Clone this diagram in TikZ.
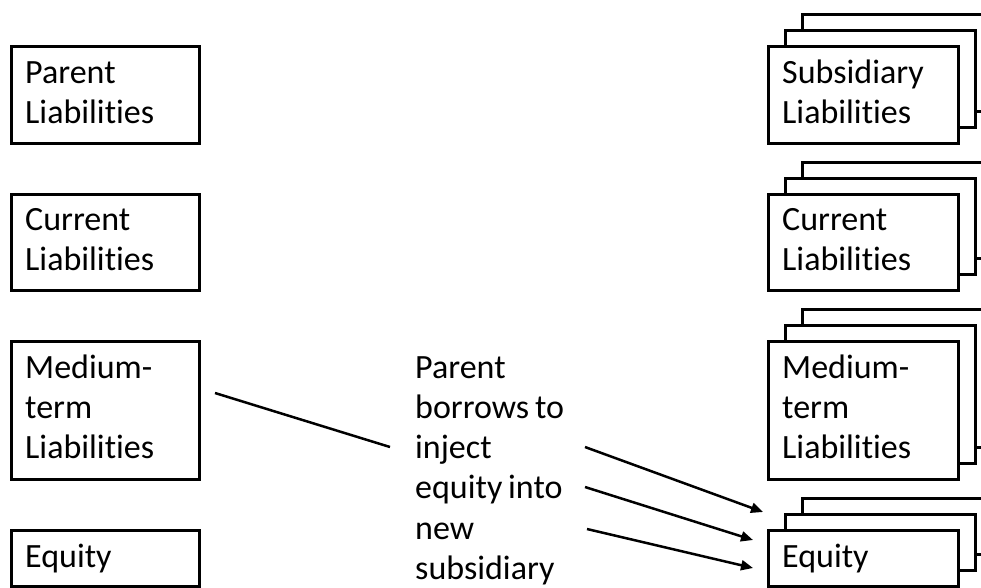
\documentclass[tikz,border=0pt]{standalone}
\usepackage{fontspec}
\newfontfamily\lblfont[Ligatures={NoCommon,NoContextual}]{Carlito}
\newcommand\lblsize{\lblfont\fontsize{34}{40.3}\selectfont}
\usetikzlibrary{arrows.meta}

\begin{document}
\begin{tikzpicture}[x=1pt, y=-1pt,
  box/.style={draw, line width=2.7pt, fill=white, inner sep=0pt,
    minimum width=#1, anchor=north west},
  txt/.style={font=\lblsize, text width=220pt, align=left,
    inner sep=0pt, anchor=base west,
    execute at begin node={\spaceskip=0.17em\relax}},
  link/.style={line width=2.5pt},
  arrowlink/.style={line width=2.5pt, -{Triangle[length=12pt,width=10pt]}}
]
\clip (0,0) rectangle (981,587);
\fill[white] (0,0) rectangle (981,587);

% parent balance sheet (left column)
\node[box=188pt, minimum height=97pt]  (pl) at (10,45)  {};
\node[box=188pt, minimum height=96pt]  (pc) at (10,193) {};
\node[box=188pt, minimum height=138pt] (pm) at (10,340) {};
\node[box=188pt, minimum height=56pt]  (pe) at (10,529) {};

\node[txt] (plt) at (25,83)  {Parent\\Liabilities};
\node[txt] (pct) at (25,230) {Current\\Liabilities};
\node[txt] (pmt) at (25,378) {Medium-\\term\\Liabilities};
\node[txt] (pet) at (25,567) {Equity};

% subsidiary balance sheets (stacked right column)
\foreach \nm/\y/\h in {sl/45/97, sc/193/96, sm/340/138, se/529/56}{
  \node[box=190pt, minimum height=\h pt] (\nm3) at (801,\y-32) {};
  \node[box=190pt, minimum height=\h pt] (\nm2) at (784,\y-16) {};
  \node[box=190pt, minimum height=\h pt] (\nm1) at (767,\y) {};
}

\node[txt] (slt) at (782,83)  {Subsidiary\\Liabilities};
\node[txt] (sct) at (782,230) {Current\\Liabilities};
\node[txt] (smt) at (782,378) {Medium-\\term\\Liabilities};
\node[txt] (set) at (782,567) {Equity};

% explanation
\node[txt] (note) at (415,378) {Parent\\borrows to\\inject\\equity into\\new\\subsidiary};

% connectors
\coordinate (m0) at (215,393);
\coordinate (m1) at (390,447);
\coordinate (a0) at (585,447);
\coordinate (a1) at (763,512);
\coordinate (b0) at (585,487);
\coordinate (b1) at (753,540);
\coordinate (c0) at (587,529);
\coordinate (c1) at (753,568);

\draw[link] (m0) -- (m1);
\draw[arrowlink] (a0) -- (a1);
\draw[arrowlink] (b0) -- (b1);
\draw[arrowlink] (c0) -- (c1);
\end{tikzpicture}
\end{document}
